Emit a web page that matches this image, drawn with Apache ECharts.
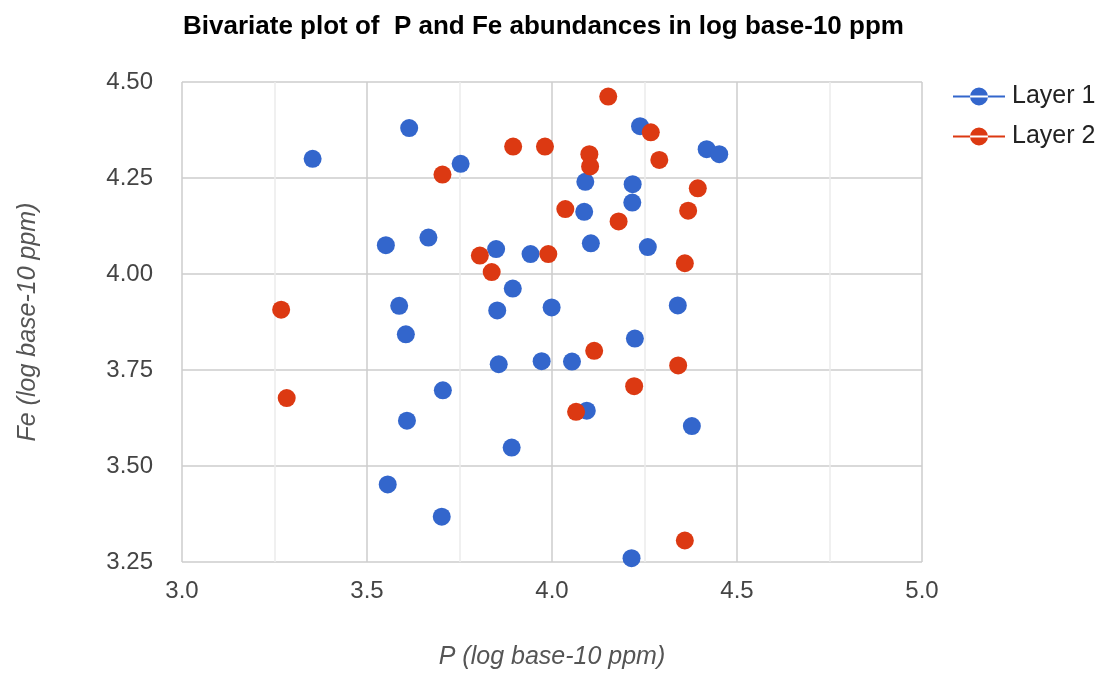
<!DOCTYPE html>
<html>
<head>
<meta charset="utf-8">
<script src="https://cdn.jsdelivr.net/npm/echarts@6/dist/echarts.min.js"></script>
<style>
html,body{margin:0;padding:0;background:#fff;}
#chart{width:1105px;height:677px;}
</style>
</head>
<body>
<div id="chart"></div>
<script>
var titleText = 'Bivariate plot of  P and Fe abundances in log base-10 ppm';
var xName = 'P (log base-10 ppm)';
var yName = 'Fe (log base-10 ppm)';
var seriesNames = ['Layer 1', 'Layer 2'];

var layer1P  = [3.614,3.353,3.753,3.551,3.666,3.849,3.942,3.894,3.587,3.852,3.999,4.238,4.418,4.452,4.090,4.218,4.217,4.087,4.105,4.259,4.340,3.605,3.856,3.972,3.705,3.608,3.891,3.556,3.702,4.224,4.054,4.094,4.378,4.215];
var layer1Fe = [4.380,4.300,4.287,4.075,4.095,4.065,4.052,3.962,3.917,3.905,3.913,4.385,4.325,4.312,4.240,4.234,4.186,4.162,4.080,4.070,3.918,3.843,3.765,3.773,3.697,3.618,3.548,3.452,3.368,3.832,3.772,3.644,3.604,3.260];

var layer2P  = [3.895,3.981,3.704,4.036,3.805,3.990,3.837,3.268,4.152,4.267,4.101,4.103,4.290,4.394,4.368,4.180,4.359,3.283,4.114,4.341,4.222,4.065,4.359];
var layer2Fe = [4.332,4.332,4.259,4.169,4.048,4.052,4.005,3.907,4.462,4.369,4.312,4.280,4.297,4.223,4.165,4.137,4.028,3.677,3.800,3.762,3.708,3.641,3.306];

function pairs(xs, ys){ return xs.map(function(x,i){ return [x, ys[i]]; }); }

var FONT = "'Liberation Sans', Arial, sans-serif";
var colors = ['#3366cc', '#dc3912'];
var legendIcon = 'path://M0,8H52V10H0Z M17,9A9,9,0,1,0,35,9A9,9,0,1,0,17,9Z';

var chart = echarts.init(document.getElementById('chart'), null, {renderer:'canvas'});
chart.setOption({
  animation: false,
  backgroundColor: '#ffffff',
  color: colors,
  title: {
    text: titleText,
    left: 178, top: 9,
    textStyle: {fontFamily: FONT, fontSize: 26, fontWeight: 'bold', color: '#000'}
  },
  legend: {
    orient: 'vertical',
    left: 948, top: 79,
    itemWidth: 52, itemHeight: 18, itemGap: 15,
    icon: legendIcon,
    textStyle: {fontFamily: FONT, fontSize: 25, color: '#222', padding: [0,0,0,2]},
    data: seriesNames
  },
  grid: {left: 182, right: 183, top: 82, bottom: 115, containLabel: false},
  xAxis: {
    type: 'value', min: 3, max: 5, interval: 0.5,
    name: xName, nameLocation: 'middle', nameGap: 83,
    nameTextStyle: {fontFamily: FONT, fontSize: 25, fontStyle: 'italic', color: '#555'},
    axisLine: {show: false}, axisTick: {show: false},
    axisLabel: {fontFamily: FONT, fontSize: 24, color: '#444', margin: 17,
      formatter: function(v){ return v.toFixed(1); }},
    splitLine: {show: true, lineStyle: {color: '#cccccc', width: 1.5}},
    minorTick: {show: false, splitNumber: 2},
    minorSplitLine: {show: true, lineStyle: {color: '#ebebeb', width: 1.5}}
  },
  yAxis: {
    type: 'value', min: 3.25, max: 4.5, interval: 0.25,
    name: yName, nameLocation: 'middle', nameGap: 141, nameRotate: 90,
    nameTextStyle: {fontFamily: FONT, fontSize: 25, fontStyle: 'italic', color: '#555'},
    axisLine: {show: false}, axisTick: {show: false},
    axisLabel: {fontFamily: FONT, fontSize: 24, color: '#444', margin: 29,
      formatter: function(v){ return v.toFixed(2); }},
    splitLine: {show: true, lineStyle: {color: '#cccccc', width: 1.5}}
  },
  series: [
    {name: seriesNames[0], type: 'scatter', symbol: 'circle', symbolSize: 18,
     itemStyle: {color: colors[0], opacity: 1}, data: pairs(layer1P, layer1Fe)},
    {name: seriesNames[1], type: 'scatter', symbol: 'circle', symbolSize: 18,
     itemStyle: {color: colors[1], opacity: 1}, data: pairs(layer2P, layer2Fe)}
  ]
});
</script>
</body>
</html>
